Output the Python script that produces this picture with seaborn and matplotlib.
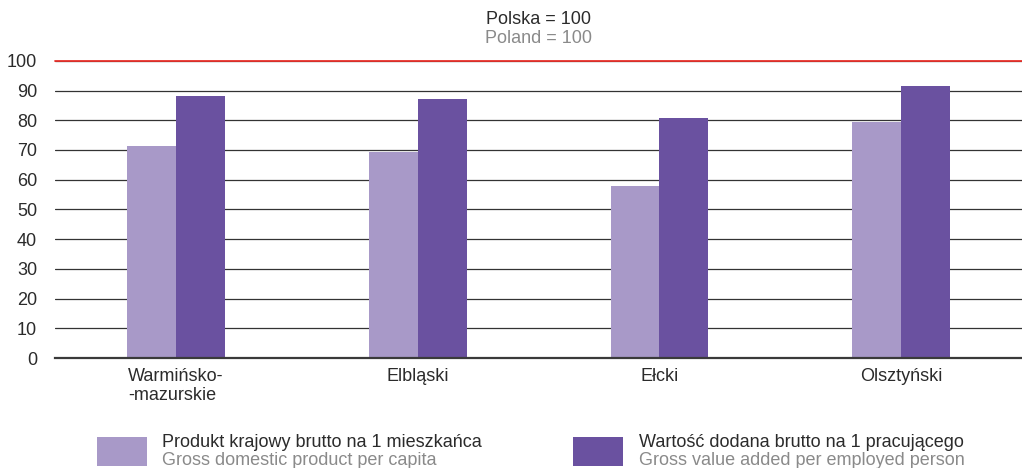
"""GDP / GVA indices for Warmińsko-mazurskie subregions, Polska = 100."""

import matplotlib
matplotlib.use("Agg")
import matplotlib.pyplot as plt
from matplotlib.patches import Rectangle
import pandas as pd
import seaborn as sns

REGIONS = ["Warmińsko-\n-mazurskie", "Elbląski", "Ełcki", "Olsztyński"]
GDP_PER_CAPITA = [71.4, 69.4, 57.9, 79.5]
GVA_PER_WORKER = [88.2, 87.2, 80.8, 91.6]

SERIES_PL = ["Produkt krajowy brutto na 1 mieszkańca",
             "Wartość dodana brutto na 1 pracującego"]
SERIES_EN = ["Gross domestic product per capita",
             "Gross value added per employed person"]
COLORS = ["#a899c8", "#6a51a0"]
Y_TICKS = [0, 10, 20, 30, 40, 50, 60, 70, 80, 90, 100]

GRAY = "#8a8a8a"
DARK = "#2b2b2b"
FS = 13

df = pd.DataFrame({
    "region": REGIONS * 2,
    "series": [SERIES_PL[0]] * len(REGIONS) + [SERIES_PL[1]] * len(REGIONS),
    "value": GDP_PER_CAPITA + GVA_PER_WORKER,
})

sns.set_theme(style="white")
plt.rcParams["font.family"] = ["Liberation Sans", "DejaVu Sans"]

fig = plt.figure(figsize=(10.22, 4.68), dpi=100)
ax = fig.add_axes([0.054, 0.235, 0.946, 0.635])

sns.barplot(
    data=df, x="region", y="value", hue="series",
    palette=COLORS, width=0.405, gap=0, saturation=1,
    linewidth=0, legend=False, ax=ax, zorder=3,
)

ax.set_xlim(-0.5, len(REGIONS) - 0.5)
ax.set_ylim(0, 100)
ax.set_yticks(Y_TICKS)
ax.yaxis.grid(True, color="#333333", lw=0.9)
ax.set_axisbelow(True)
ax.axhline(100, color="#e8302a", lw=1.3, zorder=4, clip_on=False)

for side in ["top", "left", "right"]:
    ax.spines[side].set_visible(False)
ax.spines["bottom"].set_color("#3a3a3a")
ax.spines["bottom"].set_linewidth(1.6)
ax.spines["bottom"].set_zorder(5)

ax.set_xlabel("")
ax.set_ylabel("")
ax.tick_params(axis="both", length=0, labelsize=FS, colors=DARK)
ax.tick_params(axis="y", pad=13)
ax.tick_params(axis="x", pad=7)
for lbl in ax.get_xticklabels():
    lbl.set_multialignment("left")
    lbl.set_verticalalignment("top")

fig.text(0.527, 0.959, "Polska = 100", ha="center", va="center",
         fontsize=FS, color=DARK)
fig.text(0.527, 0.918, "Poland = 100", ha="center", va="center",
         fontsize=FS, color=GRAY)

# ── Legend (built by hand: two-colour, two-line labels) ──────────────
legend_x = [0.095, 0.561]
for x0, col, pl, en in zip(legend_x, COLORS, SERIES_PL, SERIES_EN):
    fig.add_artist(Rectangle((x0, 0.005), 0.049, 0.062, transform=fig.transFigure,
                             facecolor=col, edgecolor="none"))
    fig.text(x0 + 0.064, 0.054, pl, ha="left", va="center",
             fontsize=FS, color=DARK)
    fig.text(x0 + 0.064, 0.017, en, ha="left", va="center",
             fontsize=FS, color=GRAY)

fig.savefig("out.png", dpi=100)
plt.close(fig)
